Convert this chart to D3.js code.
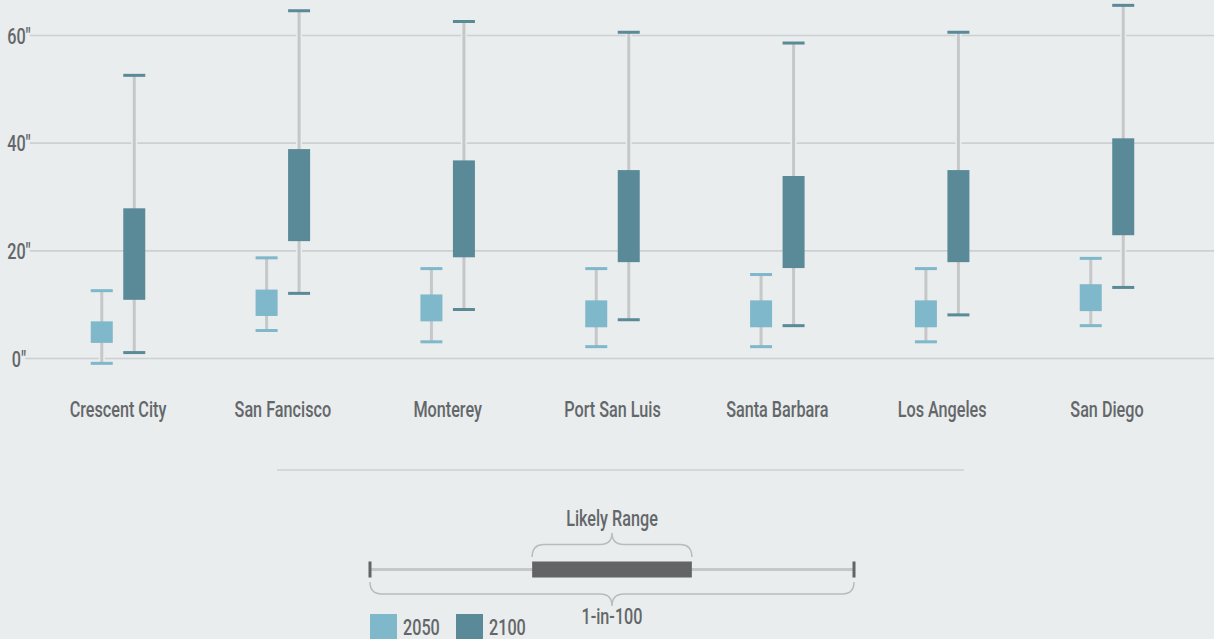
<!DOCTYPE html>
<html>
<head>
<meta charset="utf-8">
<script src="https://cdn.jsdelivr.net/npm/d3@7.9.0/dist/d3.min.js"></script>
<style>
  html, body { margin: 0; padding: 0; background: #e9edee; }
  svg { display: block; }
  text { font-family: Roboto, "DejaVu Sans Condensed", sans-serif; font-weight: 500; fill: #646769; }
</style>
</head>
<body>
<svg id="chart"></svg>
<script>
// sea level rise by station, inches
const cities = ['Crescent City', 'San Fancisco', 'Monterey', 'Port San Luis', 'Santa Barbara', 'Los Angeles', 'San Diego'];
const yTicks = [0, 20, 40, 60];

// 2050: 1-in-100 range (low/high) and likely range (boxLow/boxHigh)
const low2050     = [-0.9, 5.2, 3.1, 2.2, 2.2, 3.1, 6.1];
const boxLow2050  = [2.9, 7.9, 6.9, 5.8, 5.8, 5.8, 8.8];
const boxHigh2050 = [6.9, 12.8, 11.9, 10.8, 10.8, 10.8, 13.8];
const high2050    = [12.6, 18.7, 16.7, 16.7, 15.6, 16.7, 18.6];

// 2100
const low2100     = [1.1, 12.1, 9.1, 7.2, 6.1, 8.1, 13.2];
const boxLow2100  = [10.9, 21.8, 18.8, 17.9, 16.8, 17.9, 22.9];
const boxHigh2100 = [27.9, 38.9, 36.8, 35.0, 33.9, 35.0, 40.9];
const high2100    = [52.6, 64.6, 62.6, 60.6, 58.6, 60.6, 65.6];

const years = ['2050', '2100'];
const colors = { '2050': '#7fb8ca', '2100': '#5a8a98' };

// legend schematic (percent along the range line)
const legendStops = [0, 33.5, 66.5, 100];

const width = 1214, height = 639;
const bg = '#e9edee';
const fontSize = 22.5, squeeze = 0.72; // condensed look

const svg = d3.select('#chart').attr('width', width).attr('height', height);

// condensed text helper
function label(parent, x, y, str, anchor) {
  return parent.append('text')
    .attr('transform', `translate(${x},${y}) scale(${squeeze},1)`)
    .attr('text-anchor', anchor || 'middle')
    .attr('font-size', fontSize + 'px')
    .text(str);
}

const x = d3.scaleBand().domain(cities).range([35.6, 1189.4]).padding(0);
const sub = d3.scaleBand().domain(years).range([-32.5, 32.5]).paddingInner(0.32).paddingOuter(0.16);
const y = d3.scaleLinear().domain([0, 60]).range([358.5, 35.5]);

const boxW = 22;

// grid + y labels
const grid = svg.append('g');
yTicks.forEach(t => {
  const lbl = label(grid, 19, y(t) + 8, t + '\u2033').attr('fill', '#6d7073');
  const w = lbl.node().getComputedTextLength() * squeeze;
  grid.append('line')
    .attr('x1', 19 + w / 2 - 1)
    .attr('x2', width)
    .attr('y1', y(t)).attr('y2', y(t))
    .attr('stroke', '#cdd0d2')
    .attr('stroke-width', 1.6);
});

const rows = cities.map((c, i) => ({
  city: c,
  '2050': [low2050[i], boxLow2050[i], boxHigh2050[i], high2050[i]],
  '2100': [low2100[i], boxLow2100[i], boxHigh2100[i], high2100[i]]
}));

const groups = svg.append('g').selectAll('g')
  .data(rows)
  .join('g')
  .attr('transform', d => `translate(${x(d.city) + x.bandwidth() / 2},0)`);

years.forEach(yr => {
  const cx = sub(yr) + sub.bandwidth() / 2;
  // gap in gridlines behind whisker
  groups.append('line')
    .attr('x1', cx).attr('x2', cx)
    .attr('y1', d => y(d[yr][3])).attr('y2', d => y(d[yr][0]))
    .attr('stroke', bg).attr('stroke-width', 6);
  groups.append('line')
    .attr('x1', cx).attr('x2', cx)
    .attr('y1', d => y(d[yr][3])).attr('y2', d => y(d[yr][0]))
    .attr('stroke', '#c6c7c9').attr('stroke-width', 3);
  // caps
  [0, 3].forEach(k => {
    groups.append('rect')
      .attr('x', cx - boxW / 2)
      .attr('y', d => y(d[yr][k]) - 1.5)
      .attr('width', boxW)
      .attr('height', 3)
      .attr('fill', colors[yr]);
  });
  groups.append('rect')
    .attr('x', cx - boxW / 2)
    .attr('y', d => y(d[yr][2]))
    .attr('width', boxW)
    .attr('height', d => y(d[yr][1]) - y(d[yr][2]))
    .attr('fill', colors[yr]);
});

// x labels
const xl = svg.append('g');
cities.forEach(c => label(xl, x(c) + x.bandwidth() / 2, 417, c));

// separator
svg.append('line')
  .attr('x1', 277).attr('x2', 964)
  .attr('y1', 470).attr('y2', 470)
  .attr('stroke', '#cdd0d2').attr('stroke-width', 1.5);

// ---------- legend schematic ----------
const lx = d3.scaleLinear().domain([0, 100]).range([370, 854]);
const ly = 569.5;
const leg = svg.append('g');

leg.append('line')
  .attr('x1', lx(legendStops[0])).attr('x2', lx(legendStops[3]))
  .attr('y1', ly).attr('y2', ly)
  .attr('stroke', '#c6c7c9').attr('stroke-width', 3);
[legendStops[0], legendStops[3]].forEach(v => {
  leg.append('rect')
    .attr('x', lx(v) - 1.5).attr('y', ly - 8)
    .attr('width', 3).attr('height', 16)
    .attr('fill', '#636466');
});
leg.append('rect')
  .attr('x', lx(legendStops[1])).attr('y', ly - 8)
  .attr('width', lx(legendStops[2]) - lx(legendStops[1]))
  .attr('height', 16)
  .attr('fill', '#636466');

function brace(a, b, yEnd, yMid, yTip) {
  const m = (a + b) / 2, r = 12;
  return `M${a},${yEnd} Q${a},${yMid} ${a + r},${yMid} L${m - r},${yMid} Q${m},${yMid} ${m},${yTip}` +
         ` Q${m},${yMid} ${m + r},${yMid} L${b - r},${yMid} Q${b},${yMid} ${b},${yEnd}`;
}

leg.append('path')
  .attr('d', brace(lx(legendStops[1]), lx(legendStops[2]), 557, 544.5, 533))
  .attr('fill', 'none').attr('stroke', '#b9bcbe').attr('stroke-width', 1.5);
leg.append('path')
  .attr('d', brace(lx(legendStops[0]), lx(legendStops[3]), 582, 594, 606))
  .attr('fill', 'none').attr('stroke', '#b9bcbe').attr('stroke-width', 1.5);

label(leg, lx((legendStops[1] + legendStops[2]) / 2), 526, 'Likely Range');
label(leg, lx(50), 624, '1-in-100');

// year swatches
years.forEach((yr, i) => {
  const gx = 370 + i * 86;
  leg.append('rect')
    .attr('x', gx).attr('y', 614)
    .attr('width', 27).attr('height', 30)
    .attr('fill', colors[yr]);
  label(leg, gx + 33, 635, yr, 'start');
});
</script>
</body>
</html>
